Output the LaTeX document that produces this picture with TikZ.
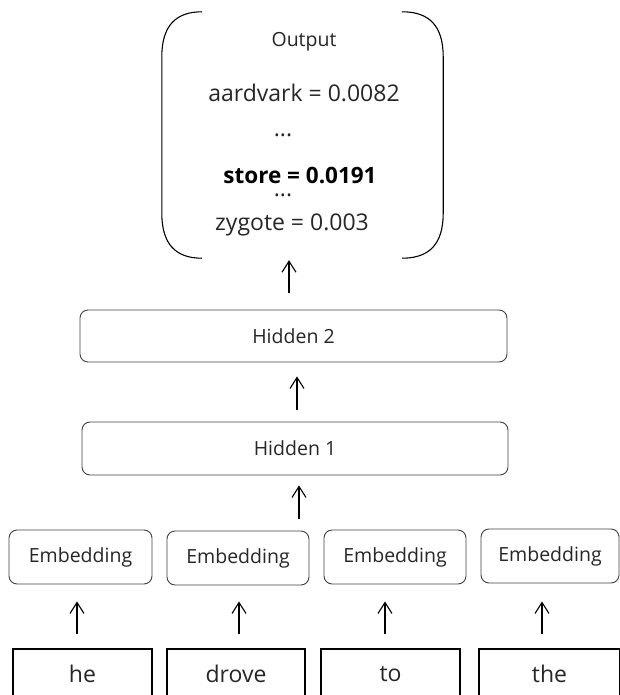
\documentclass[tikz,border=0pt]{standalone}
\usepackage{fontspec}
\setmainfont{Open Sans}
\usetikzlibrary{arrows.meta}

\tikzset{
  txt/.style={font=\fontsize{19.5}{22}\selectfont, text=black!85},
  outtxt/.style={font=\fontsize{23}{26}\selectfont, text=black!85, anchor=base, inner sep=0pt},
  dotstxt/.style={outtxt, text height=3pt, text depth=0pt},
  layerbox/.style={draw=black!75, line width=0.9pt, rounded corners=8pt, txt, inner sep=0pt},
  wordbox/.style={draw=black, line width=1.2pt, inner sep=0pt,
    font=\fontsize{23}{26}\selectfont, text=black!85},
  arr/.style={-{Straight Barb[length=11pt,width=14pt,line width=1.1pt]}, line width=1.1pt, black},
  bracket/.style={draw=black, line width=1.1pt}
}

\begin{document}
\begin{tikzpicture}[x=1pt,y=1pt]
\useasboundingbox (0,0) rectangle (620,-695);

% output distribution, framed by two round brackets
\node (out) [minimum width=281pt, minimum height=246pt, inner sep=0pt] at (302.5,-135) {};
\draw[bracket] ([xshift=40pt]out.north west)
  .. controls ([xshift=14pt]out.north west) and ([yshift=-14pt]out.north west) .. ([yshift=-45pt]out.north west)
  -- ([yshift=45pt]out.south west)
  .. controls ([yshift=14pt]out.south west) and ([xshift=14pt]out.south west) .. ([xshift=40pt]out.south west);
\draw[bracket] ([xshift=-41pt]out.north east)
  .. controls ([xshift=-14pt]out.north east) and ([yshift=-14pt]out.north east) .. ([yshift=-45pt]out.north east)
  -- ([yshift=45pt]out.south east)
  .. controls ([yshift=14pt]out.south east) and ([xshift=-14pt]out.south east) .. ([xshift=-41pt]out.south east);

\node (otitle) [outtxt, font=\fontsize{19.5}{22}\selectfont] at (304,-47) {Output};
\node (oa) [outtxt] at (304,-102) {aardvark = 0.0082};
\node (od1) [dotstxt] at (283,-137) {...};
\node (os) [outtxt, font=\fontsize{22.5}{26}\selectfont\bfseries, text=black] at (300,-183) {store = 0.0191};
\node (od2) [dotstxt] at (283,-196) {...};
\node (oz) [outtxt] at (292,-230) {zygote = 0.003};

% hidden layers
\node (h2) [layerbox, minimum width=427pt, minimum height=52pt] at (293.5,-336) {Hidden 2};
\node (h1) [layerbox, minimum width=426pt, minimum height=53pt] at (295,-448.5) {Hidden 1};

% embeddings
\node (e1) [layerbox, minimum width=143pt, minimum height=54pt] at (80.5,-557) {Embedding};
\node (e2) [layerbox, minimum width=142pt, minimum height=54pt] at (238,-558) {Embedding};
\node (e3) [layerbox, minimum width=142pt, minimum height=54pt] at (395,-557) {Embedding};
\node (e4) [layerbox, minimum width=138pt, minimum height=54pt] at (550,-556) {Embedding};

% input words
\node (w1) [wordbox, minimum width=139pt, minimum height=50pt] at (82.5,-674) {he};
\node (w2) [wordbox, minimum width=138pt, minimum height=50pt] at (236,-674) {drove};
\node (w3) [wordbox, minimum width=139pt, minimum height=50pt] at (390.5,-674) {to};
\node (w4) [wordbox, minimum width=141pt, minimum height=50pt] at (549.5,-674) {the};

% connectors
\draw[arr] ([xshift=-4.5pt,yshift=17pt]h2.north) -- ([xshift=-13.5pt,yshift=-2pt]out.south);
\draw[arr] ([xshift=2pt,yshift=12pt]h1.north) -- ([xshift=3.5pt,yshift=-14pt]h2.south);
\coordinate (embtop) at (299,-519);
\draw[arr] (embtop) -- ([yshift=-10pt]h1.south -| embtop);
\draw[arr] ([xshift=-5.5pt,yshift=14pt]w1.north) -- ([xshift=-3.5pt,yshift=-17pt]e1.south);
\draw[arr] ([xshift=3pt,yshift=14pt]w2.north) -- ([xshift=1pt,yshift=-16pt]e2.south);
\draw[arr] ([xshift=-5.5pt,yshift=14pt]w3.north) -- ([xshift=-10pt,yshift=-17pt]e3.south);
\draw[arr] ([xshift=-7.5pt,yshift=14pt]w4.north) -- ([xshift=-8pt,yshift=-18pt]e4.south);
\end{tikzpicture}
\end{document}
